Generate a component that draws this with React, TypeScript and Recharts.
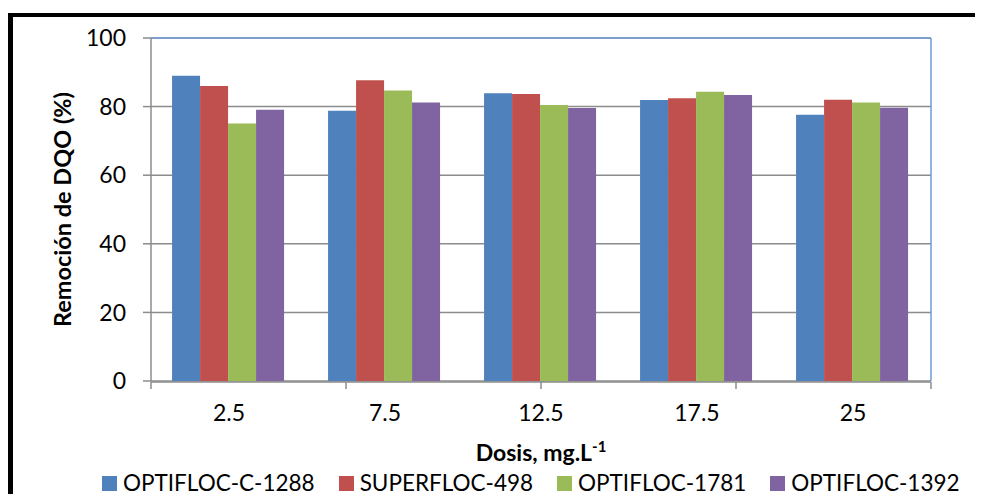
import React from "react";
import {
  BarChart,
  Bar,
  XAxis,
  YAxis,
  CartesianGrid,
  Legend,
  ReferenceLine,
} from "recharts";

const doses = ["2.5", "7.5", "12.5", "17.5", "25"];
const optiflocC1288 = [89.0, 78.8, 83.9, 81.9, 77.6];
const superfloc498 = [86.0, 87.7, 83.7, 82.4, 82.0];
const optifloc1781 = [75.1, 84.7, 80.5, 84.3, 81.2];
const optifloc1392 = [79.1, 81.2, 79.6, 83.4, 79.7];
const yTicks = [0, 20, 40, 60, 80, 100];
const edgeTicks = [0, 1, 2, 3, 4, 5];

const series = [
  { key: "c1288", name: "OPTIFLOC-C-1288", color: "#4F81BD" },
  { key: "s498", name: "SUPERFLOC-498", color: "#C0504D" },
  { key: "o1781", name: "OPTIFLOC-1781", color: "#9BBB59" },
  { key: "o1392", name: "OPTIFLOC-1392", color: "#8064A2" },
];

const data = doses.map((dose, i) => ({
  dose,
  c1288: optiflocC1288[i],
  s498: superfloc498[i],
  o1781: optifloc1781[i],
  o1392: optifloc1392[i],
}));

const FONT = "Lato, 'Noto Sans', sans-serif";
const GRID = "#8c8c8c";
const BORDER = "#6f9bd6";

const renderLegend = () => (
  <div style={{ display: "flex", fontFamily: FONT, fontSize: 22.5, color: "#000", lineHeight: "26px" }}>
    {series.map((s) => (
      <div
        key={s.key}
        style={{ display: "flex", alignItems: "center", height: 26, marginRight: 24 }}
      >
        <span
          style={{
            display: "inline-block",
            width: 15,
            height: 15,
            background: s.color,
            marginRight: 6,
          }}
        />
        <span style={{ whiteSpace: "nowrap" }}>{s.name}</span>
      </div>
    ))}
  </div>
);

const YTitle = ({ viewBox }: any) => {
  const cy = viewBox.y + viewBox.height / 2;
  return (
    <text
      x={54}
      y={cy}
      transform={`rotate(-90, 54, ${cy})`}
      textAnchor="middle"
      dominantBaseline="central"
      fontFamily={FONT}
      fontWeight={700}
      fontSize={23.5}
      fill="#000"
    >
      Remoción de DQO (%)
    </text>
  );
};

const XTitle = ({ viewBox }: any) => {
  const cx = viewBox.x + viewBox.width / 2;
  return (
    <text
      x={cx}
      y={viewBox.y + 80}
      textAnchor="middle"
      fontFamily={FONT}
      fontWeight={700}
      fontSize={23}
      fill="#000"
    >
      Dosis, mg.L
      <tspan fontSize={15} dy={-9}>-1</tspan>
    </text>
  );
};

const EmptyTick = () => <g />;

export default function App() {
  return (
    <div style={{ position: "relative", width: 967, height: 486 }}>
      <style>{`html, body { overflow: hidden; }`}</style>
      {/* frame: top and left black bars only */}
      <div style={{ position: "absolute", left: 0, top: 5, width: 975, height: 4, background: "#000" }} />
      <div style={{ position: "absolute", left: 0, top: 5, width: 5, height: 489, background: "#000" }} />
      <div style={{ position: "absolute", left: 0, top: 0 }}>
        <BarChart
          width={967}
          height={486}
          data={data}
          margin={{ top: 30, right: 43, left: 0, bottom: 111 }}
          barCategoryGap="13.5%"
          barGap={0}
        >
          <CartesianGrid vertical={false} stroke={GRID} strokeWidth={1.5} />
          <XAxis
            xAxisId="edges"
            type="number"
            domain={[0, 5]}
            ticks={edgeTicks}
            interval={0}
            height={1}
            tick={<EmptyTick />}
            tickSize={7}
            axisLine={{ stroke: GRID, strokeWidth: 1.5 }}
            tickLine={{ stroke: GRID, strokeWidth: 1.5 }}
            allowDataOverflow
          />
          <XAxis
            dataKey="dose"
            height={1}
            axisLine={false}
            tickLine={false}
            tickSize={0}
            tickMargin={24}
            tick={{ fontFamily: FONT, fontSize: 23, fill: "#000" }}
            label={<XTitle />}
          />
          <YAxis
            domain={[0, 100]}
            ticks={yTicks}
            width={143}
            tickSize={8}
            tickMargin={17}
            axisLine={{ stroke: GRID, strokeWidth: 1.5 }}
            tickLine={{ stroke: GRID, strokeWidth: 1.5 }}
            tick={{ fontFamily: FONT, fontSize: 23, fill: "#000" }}
            label={<YTitle />}
          />
          <YAxis
            yAxisId="right"
            orientation="right"
            domain={[0, 100]}
            width={1}
            tick={false}
            tickLine={false}
            axisLine={{ stroke: BORDER, strokeWidth: 1.5 }}
          />
          <ReferenceLine y={100} stroke={BORDER} strokeWidth={1.5} />
          <Legend
            layout="horizontal"
            verticalAlign="middle"
            align="center"
            content={renderLegend}
            wrapperStyle={{ left: 94, top: 462, width: "auto", height: 26 }}
          />
          {series.map((s) => (
            <Bar
              key={s.key}
              dataKey={s.key}
              name={s.name}
              fill={s.color}
              isAnimationActive={false}
            />
          ))}
        </BarChart>
      </div>
    </div>
  );
}
